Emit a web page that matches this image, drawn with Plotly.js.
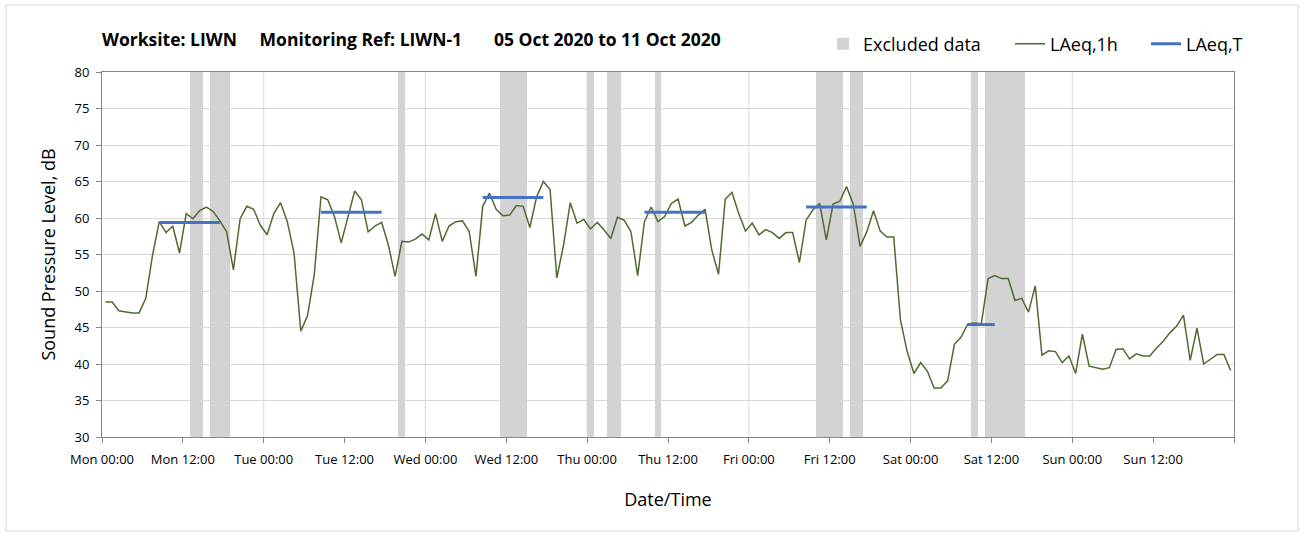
<!DOCTYPE html>
<html>
<head>
<meta charset="utf-8">
<script src="https://cdn.plot.ly/plotly-3.0.1.min.js"></script>
<style>
  html, body { margin: 0; padding: 0; background: #ffffff; }
  #chart { width: 1301px; height: 536px; }
</style>
</head>
<body>
<div id="chart"></div>
<script>
// Hourly LAeq,1h values (dB), Mon 00:30 .. Sun 23:30
const laeq1h = [
  // Mon
  48.5, 48.5, 47.3, 47.1, 47.0, 47.0, 49.0, 54.9, 59.5, 58.0, 58.9, 55.2,
  60.6, 59.9, 61.0, 61.5, 60.9, 59.6, 58.1, 52.9, 59.9, 61.6, 61.2, 59.0,
  // Tue
  57.7, 60.6, 62.1, 59.5, 55.2, 44.5, 46.6, 52.2, 62.9, 62.5, 60.2, 56.6,
  60.2, 63.7, 62.5, 58.1, 58.9, 59.4, 56.3, 52.0, 56.8, 56.7, 57.1, 57.8,
  // Wed
  57.0, 60.6, 56.8, 58.9, 59.5, 59.6, 58.1, 52.0, 61.6, 63.4, 61.2, 60.3,
  60.4, 61.7, 61.6, 58.7, 62.9, 65.0, 63.9, 51.8, 56.3, 62.1, 59.3, 59.8,
  // Thu
  58.5, 59.4, 58.4, 57.2, 60.1, 59.7, 58.1, 52.1, 59.5, 61.5, 59.5, 60.2,
  62.0, 62.6, 58.9, 59.4, 60.4, 61.2, 55.6, 52.3, 62.6, 63.5, 60.6, 58.2,
  // Fri
  59.3, 57.7, 58.4, 58.0, 57.2, 58.0, 58.0, 53.9, 59.7, 61.1, 62.0, 57.0,
  61.9, 62.3, 64.3, 61.9, 56.1, 58.1, 61.0, 58.2, 57.4, 57.4, 46.0, 41.7,
  // Sat
  38.7, 40.2, 39.0, 36.7, 36.7, 37.7, 42.7, 43.7, 45.5, 45.6, 45.5, 51.7,
  52.1, 51.7, 51.7, 48.7, 49.0, 47.1, 50.7, 41.2, 41.8, 41.7, 40.2, 41.1,
  // Sun
  38.7, 44.1, 39.7, 39.5, 39.3, 39.5, 42.0, 42.1, 40.7, 41.4, 41.1, 41.1,
  42.2, 43.1, 44.3, 45.2, 46.7, 40.5, 44.9, 40.0, 40.6, 41.3, 41.3, 39.1
];

// LAeq,T periods (hours from Mon 00:00)
const periodStart = [8.5, 32.5, 56.5, 80.5, 104.5, 128.5];
const periodEnd   = [17.5, 41.5, 65.5, 89.5, 113.5, 132.5];
const laeqT       = [59.4, 60.8, 62.8, 60.8, 61.5, 45.4];

// Excluded data windows (hours from Mon 00:00)
const excludedStart = [13, 16, 44, 59, 72, 75, 82, 106, 111, 129, 131];
const excludedEnd   = [15, 19, 45, 63, 73, 77, 83, 110, 113, 130, 137];

// Tick labels every 12 hours
const tickHours = [0, 12, 24, 36, 48, 60, 72, 84, 96, 108, 120, 132, 144, 156, 168];
const tickLabels = ['Mon 00:00', 'Mon 12:00', 'Tue 00:00', 'Tue 12:00', 'Wed 00:00', 'Wed 12:00',
  'Thu 00:00', 'Thu 12:00', 'Fri 00:00', 'Fri 12:00', 'Sat 00:00', 'Sat 12:00',
  'Sun 00:00', 'Sun 12:00', ''];

const yMin = 30, yMax = 80;

const hours = laeq1h.map((_, i) => i + 0.5);

const exX = excludedStart.map((s, i) => (s + excludedEnd[i]) / 2);
const exW = excludedStart.map((s, i) => excludedEnd[i] - s);

const tX = [], tY = [];
periodStart.forEach((s, i) => {
  tX.push(s, periodEnd[i], null);
  tY.push(laeqT[i], laeqT[i], null);
});

const FONT = 'Open Sans, Noto Sans, sans-serif';
const NB = '\u00a0';

// plot area geometry (px)
const PL = 102, PR = 1234, PT = 72, PB = 437;
const PW = PR - PL, PH = PB - PT;

const traces = [
  {
    type: 'bar', name: 'Excluded data', legend: 'legend',
    x: exX, width: exW, y: exX.map(() => yMax - yMin), base: yMin,
    marker: { color: '#d3d3d3', line: { width: 0 } },
    hoverinfo: 'skip'
  },
  {
    type: 'scatter', mode: 'lines', name: 'LAeq,1h', legend: 'legend2',
    x: hours, y: laeq1h,
    line: { color: '#4f6b2f', width: 1.5 }
  },
  {
    type: 'scatter', mode: 'lines', name: 'LAeq,T', legend: 'legend3',
    x: tX, y: tY,
    line: { color: '#4472c4', width: 3 }
  }
];

const dayLines = tickHours.filter(h => h > 0 && h < 168 && h % 24 === 0).map(h => ({
  type: 'line', xref: 'x', yref: 'y', x0: h, x1: h, y0: yMin, y1: yMax,
  line: { color: '#d9d9d9', width: 1 }, layer: 'below'
}));

const legendBase = {
  orientation: 'h', xanchor: 'left',
  y: 1 + (PT - 44) / PH, yanchor: 'middle',
  font: { family: FONT, size: 18, color: '#000000' },
  bgcolor: 'rgba(0,0,0,0)', borderwidth: 0
};

const layout = {
  width: 1301, height: 536,
  margin: { l: PL, r: 1301 - PR, t: PT, b: 536 - PB, autoexpand: false },
  paper_bgcolor: '#ffffff', plot_bgcolor: '#ffffff',
  font: { family: FONT, color: '#000000' },
  showlegend: true,
  bargap: 0,
  title: {
    text: '<b>Worksite: LIWN' + NB.repeat(5) + 'Monitoring Ref: LIWN-1' + NB.repeat(7) + '05 Oct 2020 to 11 Oct 2020</b>',
    font: { family: FONT, size: 17.5, color: '#000000' },
    xref: 'paper', x: 0, xanchor: 'left',
    yref: 'container', y: 1 - 40 / 536, yanchor: 'middle'
  },
  legend: Object.assign({}, legendBase, { x: (823 - PL) / PW }),
  legend2: Object.assign({}, legendBase, { x: (1010 - PL) / PW }),
  legend3: Object.assign({}, legendBase, { x: (1146 - PL) / PW }),
  xaxis: {
    range: [0, 168],
    tickmode: 'array', tickvals: tickHours, ticktext: tickLabels,
    ticks: 'outside', ticklen: 5, tickcolor: '#868686',
    ticklabelstandoff: 5,
    showgrid: false, zeroline: false,
    showline: true, linecolor: '#868686', linewidth: 1, mirror: true,
    tickfont: { family: FONT, size: 13, color: '#000000' },
    title: { text: 'Date/Time', font: { family: FONT, size: 18, color: '#000000' }, standoff: 26 }
  },
  yaxis: {
    range: [yMin, yMax],
    tickmode: 'linear', tick0: 30, dtick: 5,
    ticks: 'outside', ticklen: 5, tickcolor: '#868686',
    ticklabelstandoff: 4,
    showgrid: true, gridcolor: '#d9d9d9', gridwidth: 1,
    zeroline: false,
    showline: true, linecolor: '#868686', linewidth: 1, mirror: true,
    tickfont: { family: FONT, size: 13, color: '#000000' },
    title: { text: 'Sound Pressure Level, dB', font: { family: FONT, size: 18, color: '#000000' }, standoff: 14 }
  },
  shapes: dayLines.concat([{
    type: 'rect', xref: 'paper', yref: 'paper',
    x0: (6 - PL) / PW, x1: (1298 - PL) / PW,
    y0: (PB - 531) / PH, y1: 1 + (PT - 5) / PH,
    line: { color: '#d9d9d9', width: 1 }, fillcolor: 'rgba(0,0,0,0)', layer: 'below'
  }])
};

Plotly.newPlot('chart', traces, layout, { displayModeBar: false, staticPlot: true });
</script>
</body>
</html>
